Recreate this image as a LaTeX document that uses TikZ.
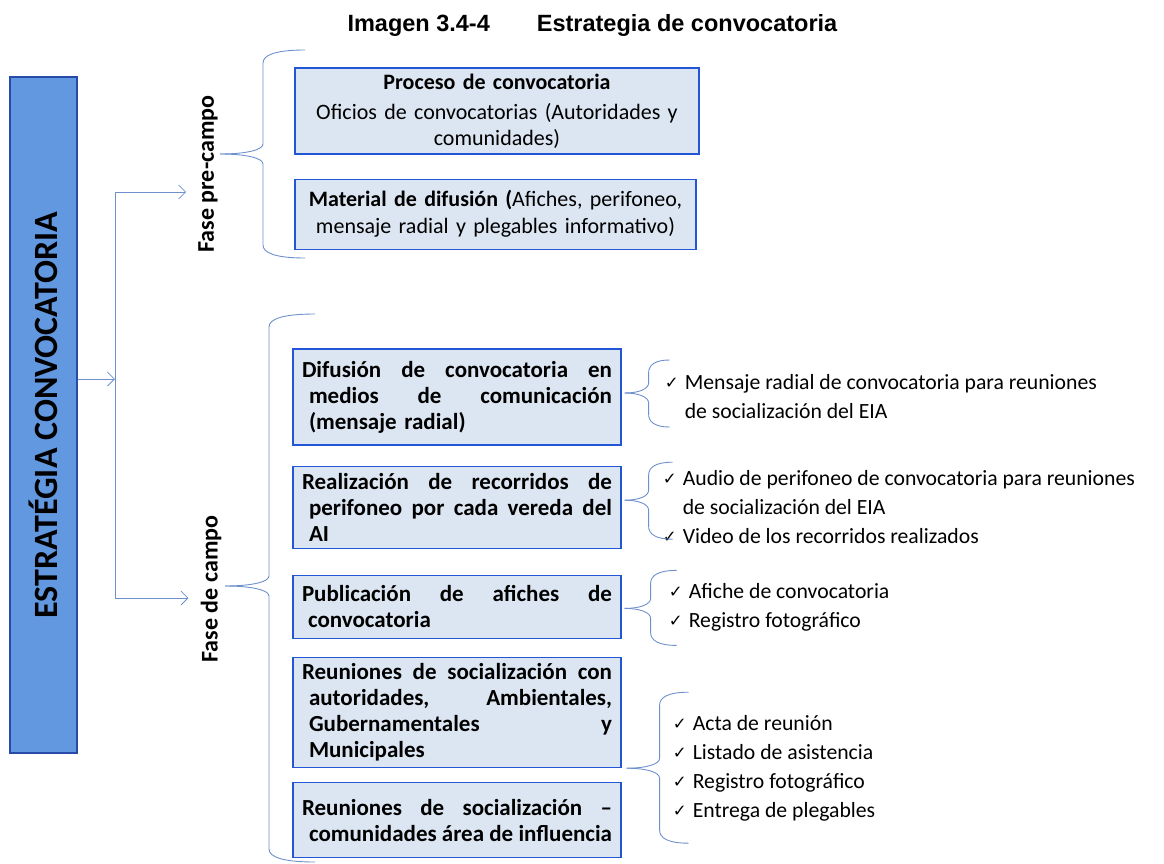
\documentclass[tikz,border=0pt]{standalone}
\usepackage{fontspec}
\setmainfont{Carlito}
\newfontfamily\titlefont{Liberation Sans}
\newfontfamily\symfont{DejaVu Sans}
\usetikzlibrary{arrows.meta, positioning}

\definecolor{boxline}{RGB}{35,85,215}
\definecolor{boxfill}{RGB}{220,230,242}
\definecolor{mainfill}{RGB}{98,152,224}
\definecolor{mainline}{RGB}{40,75,170}
\definecolor{linkblue}{RGB}{110,145,205}

% check mark in front of each item
\newcommand{\chk}{\makebox[20pt][l]{\raisebox{1pt}{\symfont\fontsize{16.5}{17}\selectfont ✓}}}
% justified line of a box
\newcommand{\jl}[2][0pt]{\hspace*{#1}\makebox[\dimexpr310pt-#1\relax][s]{\spaceskip=0pt\xspaceskip=0pt #2}}
% brace opening to the right: tip, width, up, down, end length
\newcommand{\curly}[5]{%
  \draw[bracket] (#1) .. controls +(0.6*#2,0) and +(0,-6) .. ++(#2,10) -- ++(0,#3-23)
    .. controls +(0,8) and +(-0.7*#5,0) .. ++(#5,13);
  \draw[bracket] (#1) .. controls +(0.6*#2,0) and +(0,6) .. ++(#2,-10) -- ++(0,-#4+23)
    .. controls +(0,-8) and +(-0.7*#5,0) .. ++(#5,-13);}

\begin{document}
\begin{tikzpicture}[
        x=1pt, y=1pt, >={Straight Barb[length=7pt,width=14pt]},
        box/.style={draw=boxline, fill=boxfill, line width=1.2pt, inner xsep=9pt, inner ysep=0pt,
          text width=310pt, align=left, font=\fontsize{23}{26}\selectfont\bfseries},
        mainbox/.style={draw=mainline, fill=mainfill, line width=1.5pt, rotate=90,
          font=\fontsize{34}{40}\selectfont\bfseries},
        phase/.style={rotate=90, inner sep=2pt, font=\fontsize{24}{28}\selectfont\bfseries},
        list/.style={inner sep=0pt, align=left, font=\fontsize{21.7}{29}\selectfont},
        link/.style={draw=linkblue, line width=0.8pt},
        bracket/.style={draw=linkblue, line width=0.9pt}
        ]
        \useasboundingbox (0,0) rectangle (1164,-864);

        \node[anchor=west, font=\titlefont\fontsize{23.5}{28}\selectfont\bfseries] (title) at (344,-25)
          {Imagen 3.4-4\hspace{47pt}Estrategia de convocatoria};

        \node[mainbox, minimum width=676pt, minimum height=67pt] (strat) at (43.5,-415) {ESTRATÉGIA CONVOCATORIA};

        \node[phase]                    (pre)   at (208,-174)   {Fase pre-campo};
        \node[phase]                    (campo) at (211,-589)   {Fase de campo};

        \coordinate (fork) at (115,-379);
        \draw[link,->] (strat.south |- fork) -- (fork);
        \draw[link,->] (fork) |- ([xshift=-10pt,yshift=-18pt]pre.north);
        \draw[link,->] (fork) |- ([xshift=-10pt,yshift=-9pt]campo.north);

        % pre-campo
        \node[box, text width=386pt, minimum height=86pt, align=center, font=\fontsize{22}{26}\selectfont]
          (proc) at (497,-111) {{\bfseries Proceso de convocatoria}\\[4pt] Oficios de convocatorias (Autoridades y\\ comunidades)};
        \node[box, text width=383pt, minimum height=70pt, align=center, font=\fontsize{22}{27}\selectfont]
          (material) [below=24pt of proc.south west, anchor=north west]
          {{\bfseries Material de difusión (}Afiches, perifoneo,\\ mensaje radial y plegables informativo)};
        \curly{220,-154}{43}{104}{104}{42}

        % campo
        \node[box, minimum height=96pt]  (radio)  at (457,-397)
          {\jl{Difusión de convocatoria en}\\ \jl[7pt]{medios de comunicación}\\ \hspace*{7pt}(mensaje radial)};
        \node[box, minimum height=82pt]  (perif)  [below=20pt of radio]
          {\jl{Realización de recorridos de}\\ \jl[7pt]{perifoneo por cada vereda del}\\ \hspace*{7pt}AI};
        \node[box, minimum height=63pt]  (afiche) [below=26pt of perif]
          {\jl{Publicación de afiches de}\\ \hspace*{6pt}convocatoria};
        \node[box, minimum height=110pt] (reun)   [below=18pt of afiche]
          {\jl{Reuniones de socialización con}\\ \jl[7pt]{autoridades, Ambientales,}\\ \jl[7pt]{Gubernamentales y}\\ \hspace*{7pt}Municipales};
        \node[box, minimum height=75pt]  (comun)  [below=14pt of reun]
          {\jl{Reuniones de socialización –}\\ \jl[7pt]{comunidades área de influencia}};
        \curly{225,-586}{44}{272}{276}{46}

        % products
        \node[list] (radioList)  [right=43pt of radio]
          {\chk Mensaje radial de convocatoria para reuniones\\ \hspace*{20pt}de socialización del EIA};
        \node[list] (perifList)  [right=41pt of perif]
          {\chk Audio de perifoneo de convocatoria para reuniones\\ \hspace*{20pt}de socialización del EIA\\ \chk Video de los recorridos realizados};
        \node[list] (aficheList) [right=47pt of afiche]
          {\chk Afiche de convocatoria\\ \chk Registro fotográfico};
        \node[list] (reunList)   [right=51pt of reun.south east]
          {\chk Acta de reunión\\ \chk Listado de asistencia\\ \chk Registro fotográfico\\ \chk Entrega de plegables};

        \curly{[xshift=3pt,yshift=4pt]radio.east}{24}{33}{34}{21}
        \curly{[xshift=3pt,yshift=7pt]perif.east}{24}{38}{39}{24}
        \curly{[xshift=3pt,yshift=-1.5pt]afiche.east}{26}{38}{37}{26}
        \curly{[xshift=5pt]reun.south east}{33}{76}{75}{29}
      \end{tikzpicture}
\end{document}
